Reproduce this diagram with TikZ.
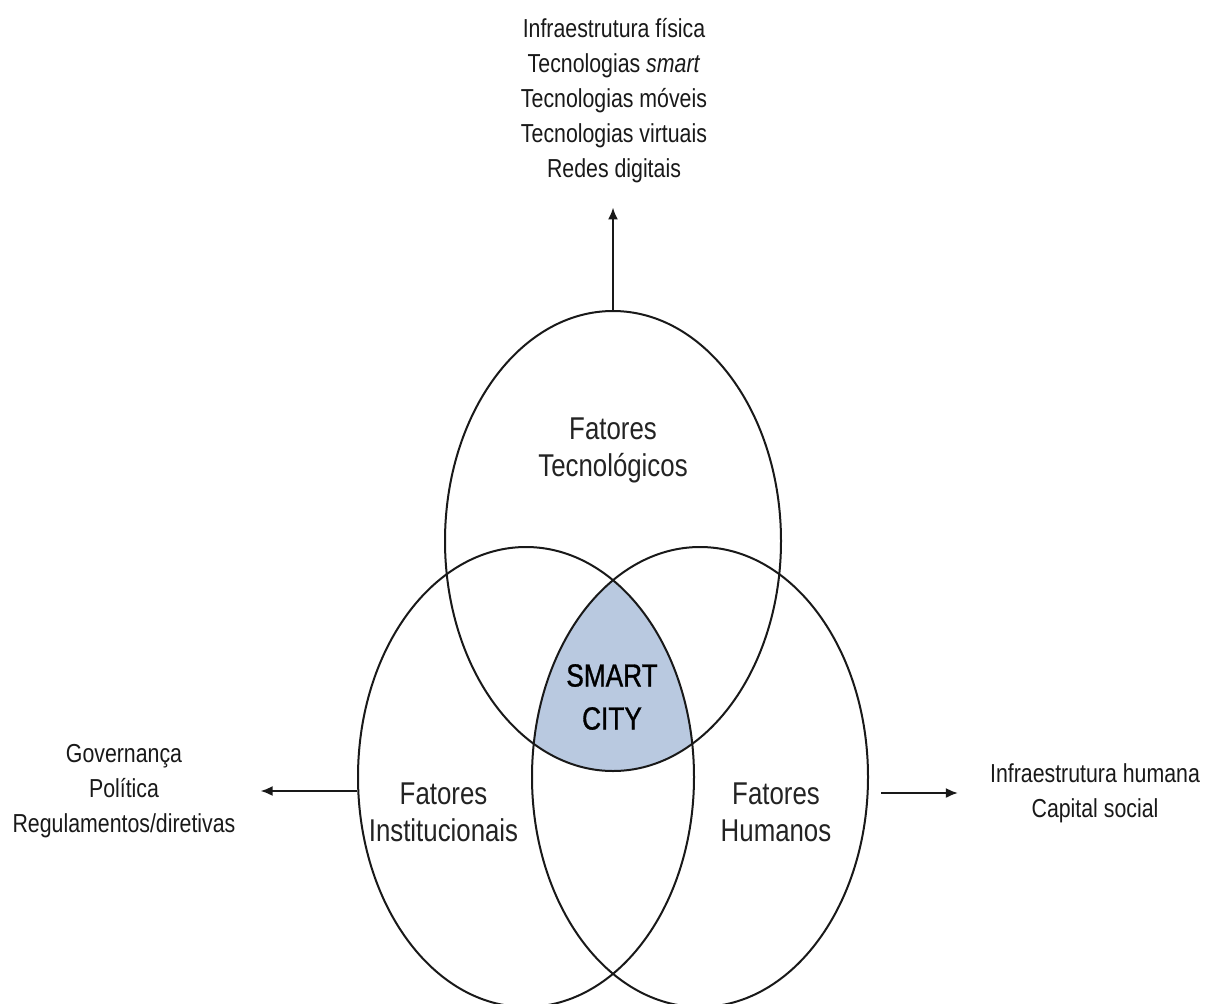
\documentclass[tikz,border=0pt]{standalone}
\usepackage{fontspec}
\setmainfont{Liberation Sans}[FakeStretch=0.82]
\newfontfamily\smartfont{Liberation Sans}[FakeStretch=0.82,FakeBold=1]
\usetikzlibrary{arrows.meta,shapes.geometric}
\definecolor{smartfill}{RGB}{185,201,224}
\definecolor{ink}{RGB}{25,25,25}
\definecolor{labelink}{RGB}{35,35,35}
\begin{document}
\begin{tikzpicture}[x=1pt,y=-1pt,
  venn/.style={ellipse, draw=ink, line width=2pt, minimum width=336pt, minimum height=460pt, inner sep=0pt},
  biglabel/.style={font=\fontsize{31.5}{37}\selectfont, align=center, text=labelink, inner sep=0pt},
  smalltext/.style={font=\fontsize{26}{35}\selectfont, align=center, text=ink, inner sep=0pt},
  arr/.style={draw=ink, line width=2pt, -{Latex[length=12pt,width=10pt]}}
]
\useasboundingbox (0,0) rectangle (1206,1003);
\fill[white] (0,0) rectangle (1206,1003);

% shaded centre
\begin{scope}
  \clip (613,541) ellipse [x radius=168, y radius=230];
  \clip (526,777) ellipse [x radius=168, y radius=230];
  \fill[smartfill] (700,777) ellipse [x radius=168, y radius=230];
\end{scope}

% circles
\node[venn] (tec)  at (613,541) {};
\node[venn] (inst) at (526,777) {};
\node[venn] (hum)  at (700,777) {};

% labels in circles
\node[biglabel] (ltec)  at (613,450.5) {Fatores\\Tecnológicos};
\node[biglabel] (linst) at (443.5,812) {Fatores\\Institucionais};
\node[biglabel] (lhum)  at (776,812) {Fatores\\Humanos};
\node[biglabel, font=\smartfont\fontsize{32}{43}\selectfont, text=black] (smart) at (612,697) {SMART\\CITY};

% outer texts
\node[smalltext] (toptext) at (614,101) {Infraestrutura física\\Tecnologias \textit{smart}\\Tecnologias móveis\\Tecnologias virtuais\\Redes digitais};
\node[smalltext] (lefttext) at (124,791) {Governança\\Política\\Regulamentos/diretivas};
\node[smalltext] (righttext) at (1095,793) {Infraestrutura humana\\Capital social};

% connectors
\draw[arr, shorten >=24pt] (tec.north) -- (tec.north |- toptext.south);
\draw[arr, shorten >=25pt] (inst.west |- lefttext.east) -- (lefttext.east);
\draw[arr, shorten <=12pt, shorten >=32pt] (hum.east |- righttext.west) -- (righttext.west);
\end{tikzpicture}
\end{document}
